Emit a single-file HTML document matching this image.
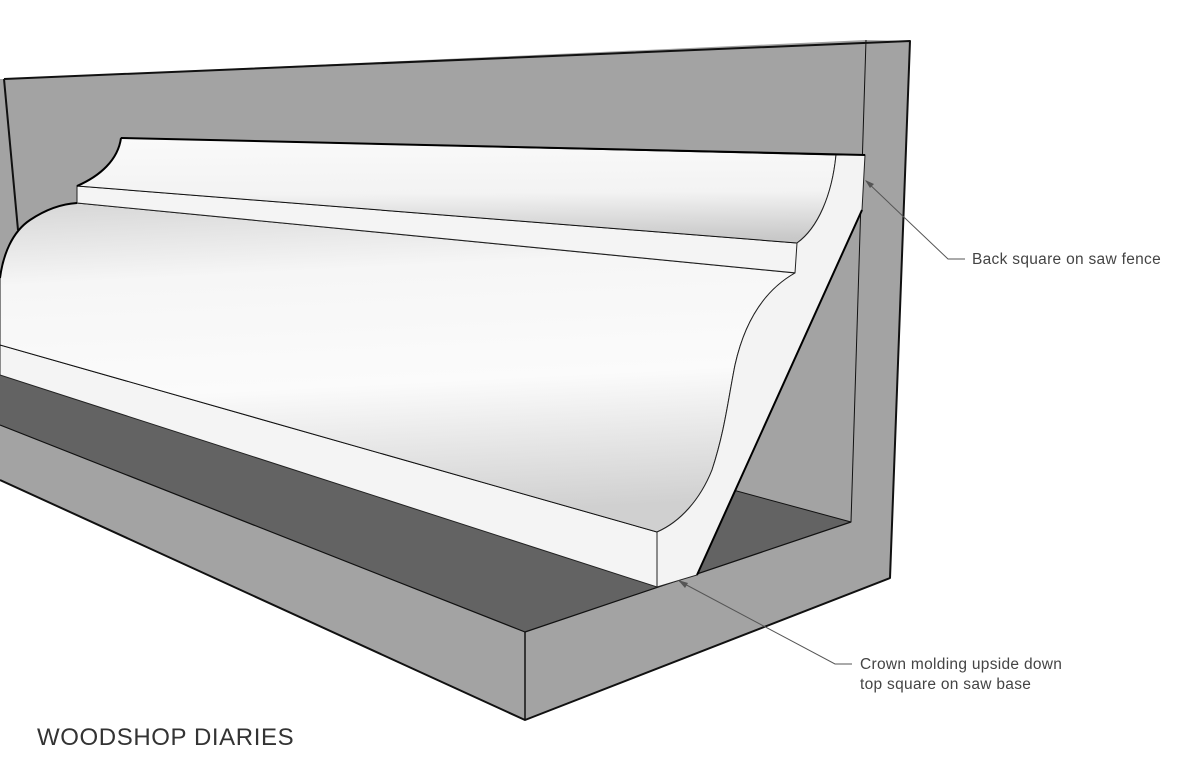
<!DOCTYPE html>
<html><head><style>
html,body{margin:0;padding:0;background:#fff;}
svg{display:block;}
text{font-family:"Liberation Sans",sans-serif;fill:#444;}
</style></head><body>
<svg width="1200" height="782" viewBox="0 0 1200 782" xmlns="http://www.w3.org/2000/svg">
<defs>
<linearGradient id="gUp" x1="0" y1="0" x2="0.05" y2="1">
<stop offset="0" stop-color="#fafafa"/><stop offset="0.55" stop-color="#f3f3f3"/><stop offset="1" stop-color="#c8c8c8"/>
</linearGradient>
<linearGradient id="gLow" x1="0" y1="0" x2="0.12" y2="1">
<stop offset="0" stop-color="#d6d6d6"/><stop offset="0.25" stop-color="#f6f6f6"/><stop offset="0.6" stop-color="#fbfbfb"/><stop offset="1" stop-color="#d0d0d0"/>
</linearGradient>
</defs>
<polygon points="4,79 866,40 851,522 0,290 0,79" fill="#a3a3a3"/>
<polygon points="0,290 851,522 525,632 0,425" fill="#636363"/>
<polygon points="0,425 525,632 525,720 0,480" fill="#a3a3a3"/>
<polygon points="866,40 910,41 890,578 525,720 525,632 851,522" fill="#a3a3a3"/>
<g fill="none" stroke="#111" stroke-linejoin="round">
<polyline points="4,79 910,41 890,578 525,720 0,480" stroke-width="2"/>
<line x1="4" y1="79" x2="18" y2="230" stroke-width="2"/>
<line x1="525" y1="632" x2="525" y2="720" stroke-width="1.5"/>
<polyline points="0,425 525,632 851,522" stroke-width="1.2"/>
<polyline points="866,40 851,522 700,481" stroke-width="1"/>
</g>
<polygon points="0,345 657,532 657,587 0,375" fill="#f4f4f4" stroke="#222" stroke-width="1"/>
<path d="M77,203 L795,273 C765,290 745,320 735,365 C728,400 725,430 712,470 C700,500 680,522 657,532 L0,345 L0,278 C3,255 12,232 30,220 C45,210 60,204 77,203 Z" fill="url(#gLow)" stroke="#111" stroke-width="1"/>
<polygon points="77,186 797,243 797,273 77,203" fill="#f4f4f4" stroke="#222" stroke-width="1"/>
<path d="M121,138 L836,155 C832,195 818,228 797,243 L77,186 C100,176 118,160 121,138 Z" fill="url(#gUp)" stroke="#111" stroke-width="1"/>
<path d="M836,155 L865,155 L862,210 L697,575 L657,587 L657,532 C680,522 700,500 712,470 C725,430 728,400 735,365 C745,320 765,290 795,273 L797,243 C818,228 832,195 836,155 Z" fill="#f3f3f3" stroke="#222" stroke-width="1"/>
<line x1="862" y1="210" x2="697" y2="575" stroke="#000" stroke-width="2"/>
<line x1="121" y1="138" x2="865" y2="155" stroke="#000" stroke-width="2"/>
<path d="M0,278 C3,255 12,232 30,220 C45,210 60,204 77,203" fill="none" stroke="#000" stroke-width="2"/>
<path d="M77,186 C100,176 118,160 121,138" fill="none" stroke="#000" stroke-width="2"/>
<g stroke="#555" stroke-width="1" fill="none">
<polyline points="866,181 948,259 965,259"/>
<polyline points="679,581 835,664 852,664"/>
</g>
<polygon points="865,180 874,184 870,188" fill="#555"/>
<polygon points="678,580 688,583 685,588" fill="#555"/>
<text x="972" y="264" font-size="15.5" letter-spacing="0.3">Back square on saw fence</text>
<text x="860" y="669" font-size="15.5" letter-spacing="0.3">Crown molding upside down</text>
<text x="860" y="689" font-size="15.5" letter-spacing="0.3">top square on saw base</text>
<text x="37" y="745" font-size="24" letter-spacing="0.6" style="fill:#333">WOODSHOP DIARIES</text>
</svg>
</body></html>
